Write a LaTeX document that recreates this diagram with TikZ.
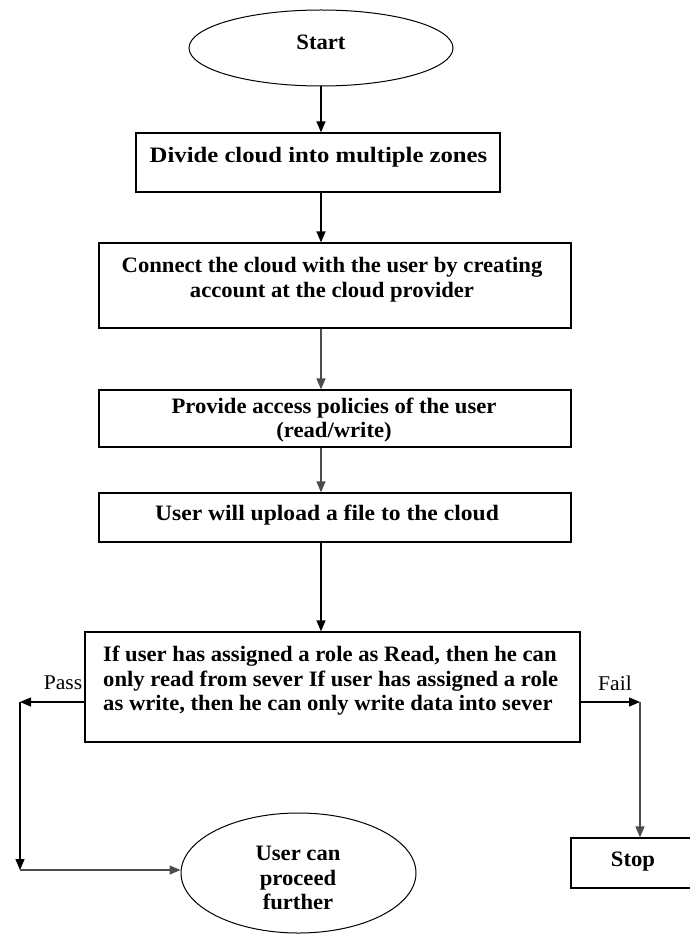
\documentclass[tikz,border=0pt]{standalone}
\usepackage{fontspec}
\usepackage{graphicx}
\setmainfont{Liberation Serif}[FakeStretch=1.03]
\usetikzlibrary{shapes.geometric,arrows.meta}
\begin{document}
\begin{tikzpicture}[x=1pt,y=-1pt,
  box/.style={draw, line width=1.3pt, rectangle, inner sep=0pt},
  oval/.style={draw, line width=1pt, ellipse, inner sep=0pt},
  txt/.style={font=\fontsize{22}{24.5}\selectfont\bfseries, align=center, inner sep=0pt},
  arr/.style={-{Triangle[length=11pt,width=9pt]}, line width=1.3pt},
  garr/.style={arr, draw=black!70, fill=black},
  lbl/.style={font=\fontsize{21}{22}\selectfont, inner sep=0pt}]
\useasboundingbox (0,0) rectangle (689,936);
\fill[white] (0,0) rectangle (689,936);
% shapes
\node[oval, minimum width=264pt, minimum height=76pt] (start) at (321,48) {};
\node[box, minimum width=364pt, minimum height=59pt] (b1) at (318,162.5) {};
\node[box, minimum width=472pt, minimum height=85pt] (b2) at (335,285.5) {};
\node[box, minimum width=472pt, minimum height=57pt] (b3) at (335,418.5) {};
\node[box, minimum width=472pt, minimum height=49pt] (b4) at (335,517.5) {};
\node[box, minimum width=495pt, minimum height=110pt] (b5) at (332.5,687) {};
\node[oval, minimum width=235pt, minimum height=120pt] (user) at (298.5,873) {};
\node[box, minimum width=129pt, minimum height=50pt] (stop) at (635.5,863) {};
% texts
\node[txt] (tstart) at (321,42) {Start};
\node[txt] (t1) at (318.5,157) {\scalebox{1.09}[1]{Divide cloud into multiple zones}};
\node[txt] (t2) at (332,279.5) {Connect the cloud with the user by creating\\account at the cloud provider};
\node[txt] (t3) at (334,420) {Provide access policies of the user\\(read/write)};
\node[txt] (t4) at (327,515) {\scalebox{1.04}[1]{User will upload a file to the cloud}};
\node[txt, align=left, anchor=west] (t5) at (103,681) {If user has assigned a role as Read, then he can\\only read from sever If user has assigned a role\\as write, then he can only write data into sever};
\node[txt] (tuser) at (298,878) {User can\\proceed\\further};
\node[txt] (tstop) at (633,862) {Stop};
\node[lbl] (pass) at (63,683) {Pass};
\node[lbl] (fail) at (615,683) {Fail};
% connectors
\draw[arr] (start.south) -- (start.south |- b1.north);
\draw[arr] (start |- b1.south) -- (start |- b2.north);
\draw[garr] (start |- b2.south) -- (start |- b3.north);
\draw[garr] (start |- b3.south) -- (start |- b4.north);
\draw[arr] (start |- b4.south) -- (start |- b5.north);
\coordinate (pl) at (20,702);
\coordinate (pb) at (20,870);
\draw[arr] (b5.west |- pl) -- (pl);
\draw[arr] (pl) -- (pb);
\draw[garr] (pb) -- (user.west |- pb);
\coordinate (fr) at (640,702);
\draw[arr] (b5.east |- fr) -- (fr);
\draw[garr] (fr) -- (fr |- stop.north);
\end{tikzpicture}
\end{document}
